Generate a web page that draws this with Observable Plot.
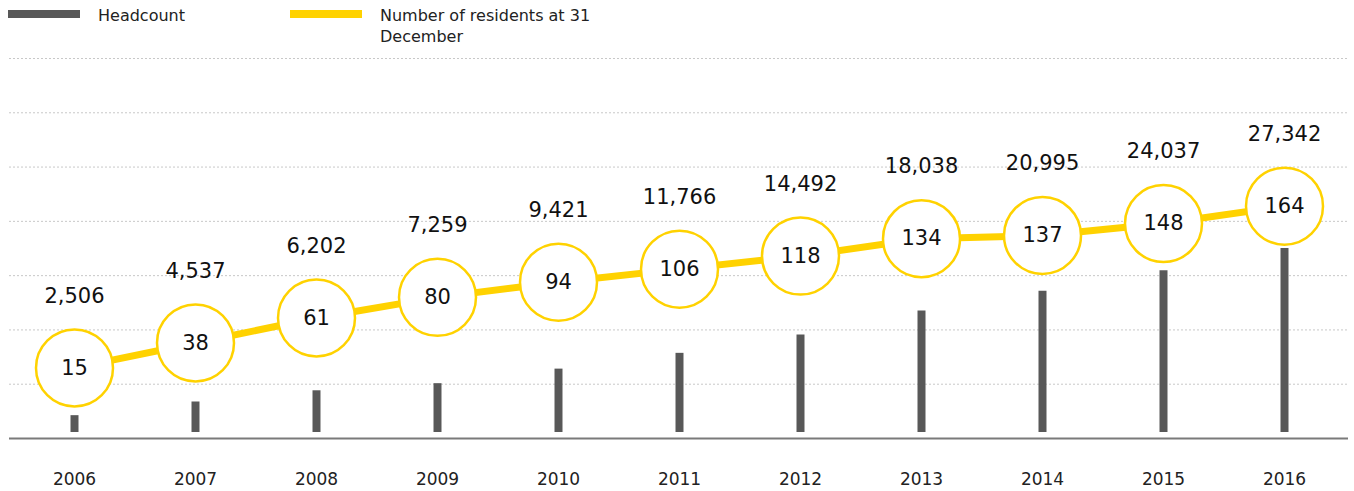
<!DOCTYPE html>
<html>
<head>
<meta charset="utf-8">
<script src="https://cdn.jsdelivr.net/npm/d3@7"></script>
<script src="https://cdn.jsdelivr.net/npm/@observablehq/plot@0.6"></script>
<style>
  html, body { margin: 0; padding: 0; background: #fff; }
  body { width: 1354px; font-family: "DejaVu Sans", sans-serif; color: #222; }
  .legend { position: relative; height: 50px; font-size: 16px; }
  .sw { position: absolute; height: 8px; width: 72px; top: 10px; }
  .lab { position: absolute; top: 5px; line-height: 21px; }
</style>
</head>
<body>
<div class="legend">
  <div class="sw" style="left:8px;background:#585858"></div>
  <div class="lab" style="left:98px">Headcount</div>
  <div class="sw" style="left:290px;background:#ffd200"></div>
  <div class="lab" style="left:380px">Number of residents at 31<br>December</div>
</div>
<div id="chart"></div>
<script>
const years = [2006, 2007, 2008, 2009, 2010, 2011, 2012, 2013, 2014, 2015, 2016];
const headcount = [2506, 4537, 6202, 7259, 9421, 11766, 14492, 18038, 20995, 24037, 27342];
const residents = [15, 38, 61, 80, 94, 106, 118, 134, 137, 148, 164];
const gridValues = [0, 50, 100, 150, 200, 250, 300];

// headcount is drawn on the residents axis via a fixed conversion (dual-axis chart)
const barBase = -44.5;
const barFactor = 169.5 / 27342;

const data = years.map((year, i) => ({
  year,
  headcount: headcount[i],
  residents: residents[i],
  barTop: barBase + headcount[i] * barFactor
}));

const chart = Plot.plot({
  width: 1354,
  height: 441,
  marginLeft: 9,
  marginRight: 6,
  marginTop: 8,
  marginBottom: 53,
  style: { fontFamily: "DejaVu Sans, sans-serif", color: "#222", background: "#fff" },
  x: { type: "point", domain: years, padding: 0.5, label: null },
  y: { domain: [-50, 300], axis: null },
  marks: [
    Plot.ruleY(gridValues, { stroke: "#c8c8c8", strokeWidth: 1, strokeDasharray: "2,2" }),
    Plot.ruleY([-50], { stroke: "#7a7a7a", strokeWidth: 2 }),
    Plot.ruleX(data, { x: "year", y1: barBase, y2: "barTop", stroke: "#585858", strokeWidth: 8 }),
    Plot.lineY(data, { x: "year", y: "residents", stroke: "#ffd200", strokeWidth: 7 }),
    Plot.dot(data, { x: "year", y: "residents", r: 38.5, fill: "#fff", stroke: "#ffd200", strokeWidth: 2.5 }),
    Plot.text(data, { x: "year", y: "residents", text: d => String(d.residents), fontSize: 21, fill: "#111" }),
    Plot.text(data, { x: "year", y: "residents", dy: -72, text: d => d3.format(",")(d.headcount), fontSize: 21, fill: "#111" }),
    Plot.axisX({ tickSize: 0, tickPadding: 34, fontSize: 17, tickFormat: d => String(d), fill: "#222", label: null })
  ]
});
document.getElementById("chart").appendChild(chart);
</script>
</body>
</html>
